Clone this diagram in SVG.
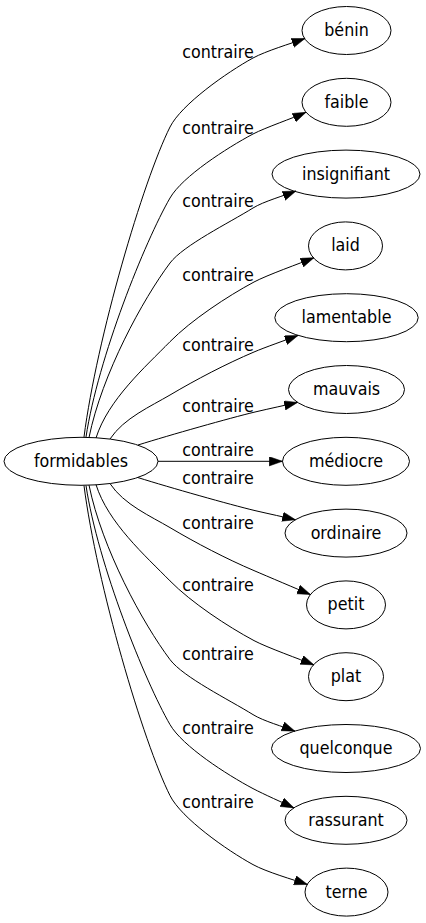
<svg xmlns="http://www.w3.org/2000/svg" width="426" height="923" viewBox="0 0 426 923">
<style>
.n ellipse{fill:none;stroke:#000;stroke-width:1}
text{font-family:"DejaVu Sans Condensed","DejaVu Sans",sans-serif;font-stretch:condensed;font-size:17.7px;fill:#000;text-anchor:middle}
.e path{fill:none;stroke:#000;stroke-width:1;marker-end:url(#ah)}
</style>
<defs>
<marker id="ah" markerUnits="userSpaceOnUse" markerWidth="14" markerHeight="10" refX="13.3" refY="4.65" orient="auto">
<path d="M0,0 L13.3,4.65 L0,9.3 z" fill="#000" stroke="#000" stroke-width="0.5"/>
</marker>
</defs>
<rect width="426" height="923" fill="#fff"/>
<g id="edges" class="e">
<path d="M84,437 C96.8,337.8 143.2,180.6 170,127 C181.2,104.6 226.7,72.4 253,58 C266,51 290,43.8 305,38.5"/>
<path d="M86,437 C98,357.8 145,241.3 170,198 C182.5,176.4 226.6,148.1 253,134 C266,127.3 292.3,118.4 306,112.3"/>
<path d="M89,437.5 C102,373.8 143,299 170,263 C183.2,245.4 229.2,222.8 253,208 C263.2,201.6 284.8,195.4 296,191"/>
<path d="M96,438 C108,399.8 145.5,366.7 170,341.7 C191,320.3 227.6,296.1 254,282 C267.2,275 300.1,263.3 314,257.7"/>
<path d="M110,439 C123.75,418.1 151.1,406.2 170,395 C195.8,379.7 226.4,363.7 254,352 C265,347.3 286.8,339.7 298,335.5"/>
<path d="M138,445 C170,435 230,418 255,412 C270,408.5 285,405.3 297.5,402.4"/>
<path d="M158,461.3 L282.5,461.3"/>
<path d="M138,477.6 C170,487.6 230,504.6 255,510.6 C270,514.1 284,517 295.5,519.8"/>
<path d="M110,483.6 C123.75,504.5 151.1,516.4 170,527.6 C195.8,542.9 226.4,558.9 254,570.6 C267.8,576.5 296.7,588.8 310.5,594.6"/>
<path d="M96,484.6 C108,522.8 145.5,555.9 170,580.9 C191,602.3 227.6,626.5 254,640.6 C267.2,647.6 300.1,659.3 314,664.9"/>
<path d="M89,485.1 C102,548.8 143,623.6 170,659.6 C183.2,677.2 229.2,699.8 253,714.6 C263.2,721 283.8,726.8 295,731.2"/>
<path d="M86,485.6 C98,564.8 145,681.3 170,724.6 C182.5,746.2 226.6,774.5 253,788.6 C263.6,794.2 283.1,802.8 294,807.9"/>
<path d="M84,485.6 C96.8,584.8 143.2,742 170,795.6 C181.2,818 226.7,850.2 253,864.6 C266,871.8 293.5,879.8 307.5,884.5"/>
</g>
<g id="edge-labels">
<text x="218" y="58">contraire</text>
<text x="218" y="134">contraire</text>
<text x="218" y="207">contraire</text>
<text x="218" y="281">contraire</text>
<text x="218" y="351">contraire</text>
<text x="218" y="412">contraire</text>
<text x="218" y="456">contraire</text>
<text x="218" y="484">contraire</text>
<text x="218" y="529">contraire</text>
<text x="218" y="591">contraire</text>
<text x="218" y="660">contraire</text>
<text x="218" y="734">contraire</text>
<text x="218" y="808">contraire</text>
</g>
<g id="formidables" class="n"><ellipse cx="81" cy="461.3" rx="77" ry="24"/><text x="81" y="466.8">formidables</text></g>
<g id="benin" class="n"><ellipse cx="346.5" cy="30.5" rx="44.5" ry="24"/><text x="346.5" y="36">bénin</text></g>
<g id="faible" class="n"><ellipse cx="346.5" cy="102.3" rx="44.5" ry="24"/><text x="346.5" y="107.8">faible</text></g>
<g id="insignifiant" class="n"><ellipse cx="346" cy="174.1" rx="74" ry="24"/><text x="346" y="179.6">insignifiant</text></g>
<g id="laid" class="n"><ellipse cx="345.5" cy="245.9" rx="37" ry="24"/><text x="345.5" y="251.4">laid</text></g>
<g id="lamentable" class="n"><ellipse cx="346.5" cy="317.7" rx="71.7" ry="24"/><text x="346.5" y="323.2">lamentable</text></g>
<g id="mauvais" class="n"><ellipse cx="346.5" cy="389.5" rx="58" ry="24"/><text x="346.5" y="395">mauvais</text></g>
<g id="mediocre" class="n"><ellipse cx="346" cy="461.3" rx="63.5" ry="24"/><text x="346" y="466.8">médiocre</text></g>
<g id="ordinaire" class="n"><ellipse cx="346" cy="533.1" rx="61" ry="24"/><text x="346" y="538.6">ordinaire</text></g>
<g id="petit" class="n"><ellipse cx="346" cy="604.9" rx="39.5" ry="24"/><text x="346" y="610.4">petit</text></g>
<g id="plat" class="n"><ellipse cx="346" cy="676.7" rx="37.5" ry="24"/><text x="346" y="682.2">plat</text></g>
<g id="quelconque" class="n"><ellipse cx="346" cy="748.5" rx="74.5" ry="24"/><text x="346" y="754">quelconque</text></g>
<g id="rassurant" class="n"><ellipse cx="346" cy="820.3" rx="61" ry="24"/><text x="346" y="825.8">rassurant</text></g>
<g id="terne" class="n"><ellipse cx="346.5" cy="892.1" rx="41.5" ry="24"/><text x="346.5" y="897.6">terne</text></g>
</svg>
